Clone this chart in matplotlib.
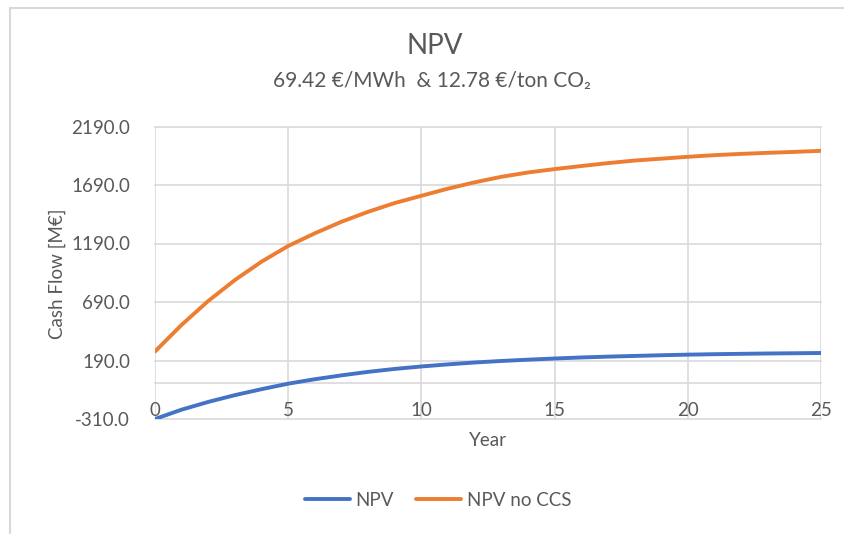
import matplotlib
matplotlib.use("Agg")
import matplotlib.pyplot as plt

plt.rcParams['font.family'] = ['Lato', 'DejaVu Sans']

# Cumulative discounted cash flow per project year [M€]
years = list(range(0, 26))
npv = [-310, -230, -164, -106, -55, -8, 30, 63, 93, 118, 139, 157, 173, 186,
       197, 207, 216, 223, 229, 235, 240, 244, 247, 250, 252, 254]
npv_no_ccs = [267, 495, 699, 878, 1035, 1169, 1277, 1376, 1461, 1536, 1598,
              1659, 1713, 1760, 1797, 1826, 1852, 1877, 1899, 1915, 1931,
              1945, 1956, 1965, 1973, 1982]

y_ticks = [-310, 190, 690, 1190, 1690, 2190]
x_ticks = [0, 5, 10, 15, 20, 25]

TEXT = '#595959'
GRID = '#d9d9d9'
BLUE = '#4472C4'
ORANGE = '#ED7D31'

W, H = 845, 534
fig = plt.figure(figsize=(W / 100, H / 100), dpi=100)
fig.patch.set_facecolor('white')

# chart-area border (top and left edges)
fig.add_artist(plt.Line2D([10 / W, 1], [1 - 8 / H, 1 - 8 / H], color=GRID, lw=1.5,
                          transform=fig.transFigure))
fig.add_artist(plt.Line2D([10 / W, 10 / W], [0, 1 - 8 / H], color=GRID, lw=1.5,
                          transform=fig.transFigure))

left, right = 155 / W, 821 / W
top, bottom = 1 - 126.5 / H, 1 - 419 / H
ax = fig.add_axes([left, bottom, right - left, top - bottom])

ax.plot(years, npv, color=BLUE, lw=2.8, label='NPV', solid_capstyle='round',
        solid_joinstyle='round', zorder=3)
ax.plot(years, npv_no_ccs, color=ORANGE, lw=2.8, label='NPV no CCS',
        solid_capstyle='round', solid_joinstyle='round', zorder=3)

ax.set_xlim(0, 25)
ax.set_ylim(-310, 2190)
ax.set_xticks(x_ticks)
ax.set_yticks(y_ticks)
ax.set_yticklabels([f'{v:.1f}' for v in y_ticks])

ax.grid(True, color=GRID, lw=1.2)
ax.set_axisbelow(True)
for gl in ax.get_xgridlines() + ax.get_ygridlines():
    gl.set_clip_on(False)

for s in ['left', 'right', 'top']:
    ax.spines[s].set_visible(False)
ax.spines['bottom'].set_position(('data', 0))
ax.spines['bottom'].set_color(GRID)
ax.spines['bottom'].set_linewidth(1.2)

ax.tick_params(axis='both', length=0, colors=TEXT, labelsize=13.5)
ax.tick_params(axis='x', pad=14)
ax.tick_params(axis='y', pad=18)

ax.set_xlabel('Year', color=TEXT, fontsize=13.5)
ax.xaxis.set_label_coords(0.5, (419 - 440) / (419 - 126.5))
ax.xaxis.label.set_verticalalignment('center')
ax.set_ylabel('Cash Flow [M€]', color=TEXT, fontsize=13.5)
ax.yaxis.set_label_coords((57 - 155) / (821 - 155), (419 - 274) / (419 - 126.5))
ax.yaxis.label.set_verticalalignment('center')

fig.text(435 / W, 1 - 46 / H, 'NPV', ha='center', va='center', color=TEXT, fontsize=20)
fig.text(432 / W, 1 - 81 / H, '69.42 €/MWh  & 12.78 €/ton CO₂', ha='center', va='center',
         color=TEXT, fontsize=15)

fig.legend(loc='center', bbox_to_anchor=(438 / W, 1 - 500 / H), ncol=2, frameon=False,
           fontsize=13.5, labelcolor=TEXT, handlelength=2.4, handletextpad=0.3,
           columnspacing=1.2)

fig.savefig('out.png', dpi=100, facecolor='white')
